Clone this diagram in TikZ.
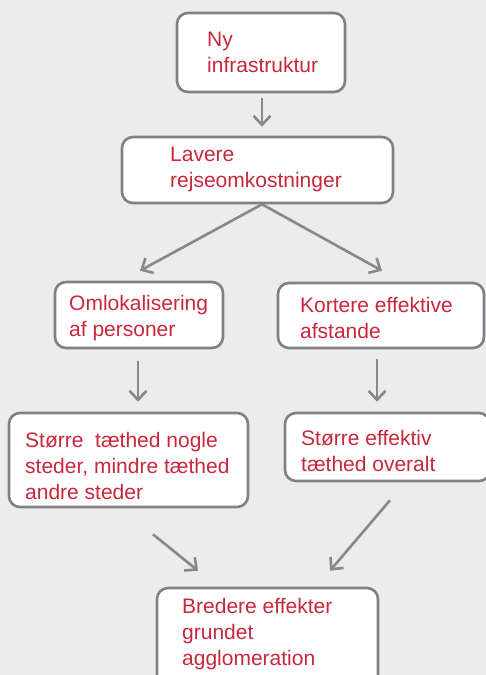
\documentclass[tikz,border=0pt]{standalone}
\usepackage{fontspec}
\setmainfont{Liberation Sans}
\usetikzlibrary{arrows.meta,calc,fit}
\definecolor{bgc}{HTML}{ECECEC}
\definecolor{bordc}{HTML}{7F8184}
\definecolor{arrc}{HTML}{86888A}
\definecolor{txtc}{HTML}{C8283C}
\tikzset{
  boxnode/.style={draw=bordc, line width=2.6pt, fill=white, rounded corners=11pt, inner sep=0pt},
  txtnode/.style={anchor=north west, inner sep=0pt, align=left, text=txtc, font=\fontsize{21}{26}\selectfont},
  conn/.style={draw=arrc, line width=2.6pt, -{Straight Barb[length=9pt,width=17pt]}}
}
\begin{document}
\begin{tikzpicture}[x=1pt,y=-1pt]
\fill[bgc] (0,0) rectangle (486,675);
\useasboundingbox (0,0) rectangle (486,675);
\clip (0,0) rectangle (486,675);
% boxes
\node[boxnode, fit={(177,13) (345,92)}] (b1) {};
\node[boxnode, fit={(122,137) (393,203)}] (b2) {};
\node[boxnode, fit={(55,282) (223,348)}] (b3) {};
\node[boxnode, fit={(278,283) (484,348)}] (b4) {};
\node[boxnode, fit={(9,413) (248,507)}] (b5) {};
\node[boxnode, fit={(285,413) (490,481)}] (b6) {};
\node[boxnode, fit={(157,588) (378,700)}] (b7) {};
% texts
\node[txtnode] (t1) at (207,32) {Ny\\infrastruktur};
\node[txtnode] (t2) at (170,147) {Lavere\\rejseomkostninger};
\node[txtnode] (t3) at (69,295) {Omlokalisering\\af personer};
\node[txtnode] (t4) at (300,297) {Kortere effektive\\afstande};
\node[txtnode] (t5) at (25,432) {Større\ \ tæthed nogle\\steder, mindre tæthed\\andre steder};
\node[txtnode] (t6) at (301,430) {Større effektiv\\tæthed overalt};
\node[txtnode] (t7) at (182,598) {Bredere effekter\\grundet\\agglomeration};
% connectors
\draw[conn] ($(b1.south)+(1,5)$) -- ($(b2.north)+(4.5,-9)$);
\draw[conn] ($(b2.south)+(4.5,0)$) -- ($(b3.north)+(1,-10)$);
\draw[conn] ($(b2.south)+(4.5,0)$) -- ($(b4.north)+(1,-11)$);
\draw[conn] ($(b3.south)+(-1,12)$) -- ($(b5.north)+(9.5,-10)$);
\draw[conn] ($(b4.south)+(-4,10)$) -- ($(b6.north)+(-10.5,-10)$);
\draw[conn] ($(b5.south)+(24.5,26)$) -- ($(b7.north)+(-69.5,-16)$);
\draw[conn] ($(b6.south)+(2.5,18)$) -- ($(b7.north)+(62.5,-16)$);
\end{tikzpicture}
\end{document}
